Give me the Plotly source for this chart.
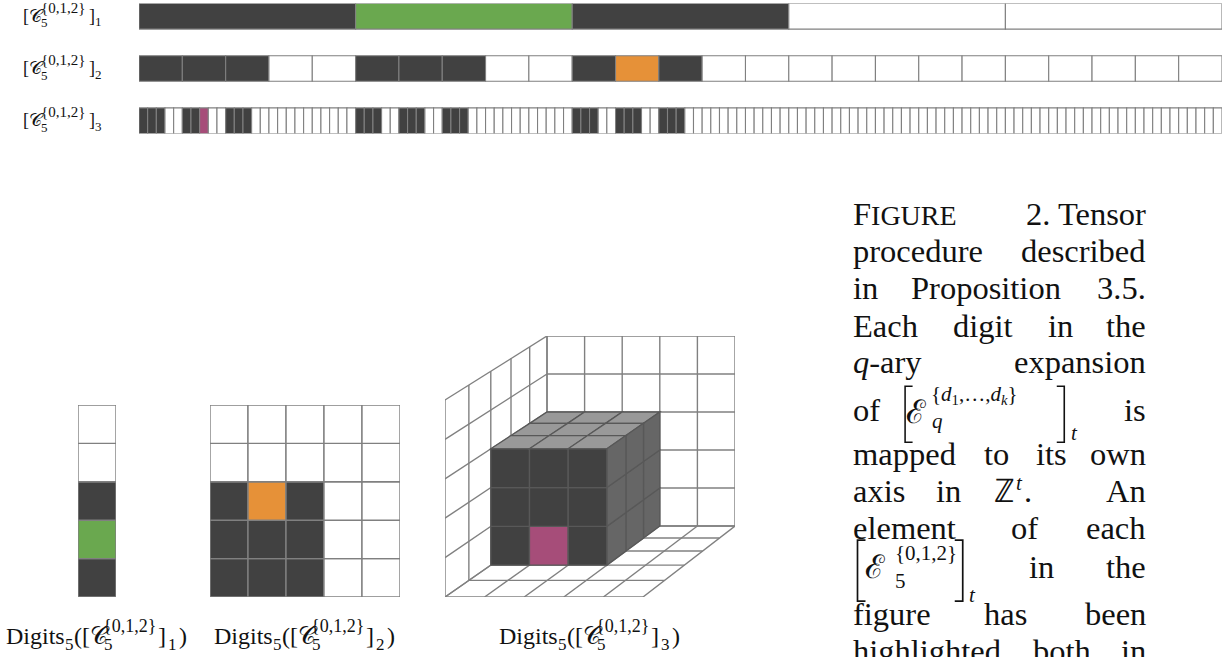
import plotly.graph_objects as go

# ---------------- data ----------------
W, H = 1230, 657
Q = 5                       # base
DIGIT_SET = [0, 1, 2]       # allowed digits
LEVELS = [1, 2, 3]          # number of digits per row / panel
HIGHLIGHT = [1, 11, 7]      # highlighted element of each level
HL_COLORS = ["#6aa84f", "#e69138", "#a64d79"]
SET_NAME = "{0,1,2}"

DARK = "#414141"
EMPTY = "#ffffff"
EDGE = "#808080"
CUBE_TOP = "#999999"
CUBE_SIDE = "#666666"
CUBE_EDGE = "#585858"
INK = "#111111"
SERIF = "Liberation Serif"


def digits_of(n, k):
    return [(n // Q ** i) % Q for i in range(k)]


def in_set(n, k):
    return all(d in DIGIT_SET for d in digits_of(n, k))


def cell_color(n, k):
    if n == HIGHLIGHT[k - 1]:
        return HL_COLORS[k - 1]
    return DARK if in_set(n, k) else EMPTY


shapes = []

# ---------------- panel A : interval rows ----------------
ROW_HALF = 0.245
NMAX = Q ** max(LEVELS)
for r, k in enumerate(LEVELS):
    w = NMAX / Q ** k
    for n in range(Q ** k):
        shapes.append(dict(type="rect", xref="x", yref="y",
                           x0=n * w, x1=(n + 1) * w,
                           y0=r - ROW_HALF, y1=r + ROW_HALF,
                           fillcolor=cell_color(n, k),
                           line=dict(color=EDGE, width=1.1)))

# ---------------- panel B : 1D column ----------------
for n in range(Q):
    shapes.append(dict(type="rect", xref="x2", yref="y2",
                       x0=0, x1=1, y0=n, y1=n + 1,
                       fillcolor=cell_color(n, 1),
                       line=dict(color=EDGE, width=1.4)))

# ---------------- panel C : 2D grid ----------------
for n in range(Q ** 2):
    d = digits_of(n, 2)
    X, Y = d[0], d[1]
    shapes.append(dict(type="rect", xref="x3", yref="y3",
                       x0=X, x1=X + 1, y0=Y, y1=Y + 1,
                       fillcolor=cell_color(n, 2),
                       line=dict(color=EDGE, width=1.4)))

# ---------------- panel D : 3D lattice ----------------
K_PERSP = 1.222
BACK_O, BACK_S = (102 / 38, 71 / 38), (37.6 / 38, 1.0)
FRONT_O, FRONT_S = (0.0, 0.0), (39.6 / 38, 39.4 / 38)


def proj(X, Y, Z):
    t = Z / Q
    f = t / (K_PERSP - (K_PERSP - 1) * t)
    bx = BACK_O[0] + BACK_S[0] * X
    by = BACK_O[1] + BACK_S[1] * Y
    fx = FRONT_O[0] + FRONT_S[0] * X
    fy = FRONT_O[1] + FRONT_S[1] * Y
    return bx + f * (fx - bx), by + f * (fy - by)


def seg(p, q, color=EDGE, width=1.4):
    (x0, y0), (x1, y1) = proj(*p), proj(*q)
    shapes.append(dict(type="line", xref="x4", yref="y4",
                       x0=x0, y0=y0, x1=x1, y1=y1,
                       line=dict(color=color, width=width)))


def poly(pts, fill, color=CUBE_EDGE, width=1.3):
    xy = [proj(*p) for p in pts]
    path = "M " + " L ".join(f"{x:.4f},{y:.4f}" for x, y in xy) + " Z"
    shapes.append(dict(type="path", xref="x4", yref="y4", path=path,
                       fillcolor=fill, line=dict(color=color, width=width)))


for i in range(Q + 1):
    # back wall (Z = 0)
    seg((i, 0, 0), (i, Q, 0))
    seg((0, i, 0), (Q, i, 0))
    # left wall (X = 0)
    seg((0, 0, i), (0, Q, i))
    seg((0, i, 0), (0, i, Q))
    # floor (Y = 0)
    seg((i, 0, 0), (i, 0, Q))
    seg((0, 0, i), (Q, 0, i))

vox = {}
for n in range(Q ** 3):
    if in_set(n, 3):
        d0, d1, d2 = digits_of(n, 3)
        vox[(d1, d2, d0)] = n          # (X, Y, depth layer)

for (X, Y, L), n in sorted(vox.items(), key=lambda kv: (kv[0][2], kv[0][0], kv[0][1])):
    if (X, Y + 1, L) not in vox:      # top face
        poly([(X, Y + 1, L), (X + 1, Y + 1, L), (X + 1, Y + 1, L + 1), (X, Y + 1, L + 1)], CUBE_TOP)
    if (X + 1, Y, L) not in vox:      # right face
        poly([(X + 1, Y, L), (X + 1, Y + 1, L), (X + 1, Y + 1, L + 1), (X + 1, Y, L + 1)], CUBE_SIDE)
    if (X, Y, L + 1) not in vox:      # front face
        col = HL_COLORS[2] if n == HIGHLIGHT[2] else DARK
        poly([(X, Y, L + 1), (X + 1, Y, L + 1), (X + 1, Y + 1, L + 1), (X, Y + 1, L + 1)], col)

# ---------------- text ----------------
ann = []


def T(x, base, text, size, anchor="left", family=SERIF):
    ann.append(dict(xref="paper", yref="paper", x=x / W, y=1 - (base - 0.34 * size) / H,
                    text=text, showarrow=False, xanchor=anchor, yanchor="middle",
                    font=dict(family=family, size=size, color=INK), borderpad=0))


def BR(x, center, text, size):
    ann.append(dict(xref="paper", yref="paper", x=x / W, y=1 - center / H,
                    text=text, showarrow=False, xanchor="left", yanchor="middle",
                    font=dict(family="Roboto", size=size, color=INK, weight=100), borderpad=0))


# row labels
ROW_CENTERS = [16, 68.5, 120.5]
for k, yc in zip(LEVELS, ROW_CENTERS):
    T(22, yc + 6, "[𝒞", 18)
    T(40, yc - 3, SET_NAME, 15)
    T(40, yc + 11, str(Q), 13)
    T(88, yc + 6, "]", 18)
    T(94, yc + 10, str(k), 13)

# bottom labels (centred below each panel)
PANEL_CENTERS = [97, 305, 590]
for k, cx in zip(LEVELS, PANEL_CENTERS):
    ox = cx - 95
    b = 644
    T(ox + 3, b, "Digits", 24)
    T(ox + 62, b + 6, str(Q), 17)
    T(ox + 71, b, "([𝒞", 24)
    T(ox + 100, b - 12, SET_NAME, 18)
    T(ox + 101, b + 6, str(Q), 17)
    T(ox + 155, b, "]", 24)
    T(ox + 165, b + 6, str(k), 17)
    T(ox + 176, b, ")", 24)

# caption (justified column)
CS = 32.5
CAP_LINES = [
    (225, [("F<span style='font-size:28px'>IGURE</span>", 852, "left"), ("2. Tensor", 1147, "right")]),
    (262, [("procedure", 852, "left"), ("described", 1147, "right")]),
    (299, [("in", 852, "left"), ("Proposition", 910, "left"), ("3.5.", 1147, "right")]),
    (337, [("Each", 852, "left"), ("digit", 952, "left"), ("in", 1047, "left"), ("the", 1147, "right")]),
    (373, [("<i>q</i>-ary", 852, "left"), ("expansion", 1147, "right")]),
    (421, [("of", 852, "left"), ("is", 1147, "right")]),
    (465, [("mapped", 852, "left"), ("to", 983, "left"), ("its", 1035, "left"), ("own", 1147, "right")]),
    (502, [("axis", 852, "left"), ("in", 935, "left"), ("An", 1147, "right")]),
    (539, [("element", 852, "left"), ("of", 1010, "left"), ("each", 1147, "right")]),
    (578, [("in", 1028, "left"), ("the", 1147, "right")]),
    (625, [("figure", 852, "left"), ("has", 983, "left"), ("been", 1147, "right")]),
    (662, [("highlighted", 852, "left"), ("both", 1032, "left"), ("in", 1147, "right")]),
]
for base, words in CAP_LINES:
    for txt, x, anc in words:
        T(x, base, txt, CS, anc)

# math in caption
BR(898, 413, "[", 60)
T(905, 423, "ℰ", CS)
T(930, 402, "{<i>d</i><sub>1</sub>,…,<i>d<sub>k</sub></i>}", 21)
T(931, 428, "<i>q</i>", 21)
BR(1055, 413, "]", 60)
T(1070, 440, "<i>t</i>", 21)

T(993, 502, "ℤ", CS)
T(1015, 490, "<i>t</i>", 21)
T(1023, 502, ".", CS)

BR(850, 570, "[", 64)
T(864, 578, "ℰ", CS)
T(894, 560, SET_NAME, 21)
T(894, 588, str(Q), 21)
BR(953, 570, "]", 64)
T(968, 602, "<i>t</i>", 21)

# ---------------- figure ----------------
fig = go.Figure()
for i in ["", "2", "3", "4"]:
    fig.add_trace(go.Scatter(x=[None], y=[None], xaxis="x" + i, yaxis="y" + i,
                             showlegend=False, hoverinfo="skip"))


def px_dom(a, b, total):
    return [a / total, b / total]


def ax(domain, rng):
    return dict(domain=domain, range=rng, visible=False, showgrid=False,
                zeroline=False, fixedrange=True)


fig.update_layout(
    width=W, height=H,
    margin=dict(l=0, r=0, t=0, b=0),
    paper_bgcolor="white", plot_bgcolor="white",
    xaxis=ax(px_dom(139, 1222, W), [0, NMAX]),
    yaxis=ax([1 - 133.5 / H, 1 - 3.5 / H], [len(LEVELS) - 1 + ROW_HALF, -ROW_HALF]),
    xaxis2=ax(px_dom(78, 116, W), [0, 1]),
    yaxis2=ax([1 - 597 / H, 1 - 405 / H], [0, Q]),
    xaxis3=ax(px_dom(210, 400, W), [0, Q]),
    yaxis3=ax([1 - 597 / H, 1 - 405 / H], [0, Q]),
    xaxis4=ax(px_dom(445, 735, W), [0, 290 / 38]),
    yaxis4=ax([1 - 597 / H, 1 - 336 / H], [0, 261 / 38]),
    shapes=shapes,
    annotations=ann,
    showlegend=False,
)

fig.write_html("out.html",
               config={"displayModeBar": False},
               post_script="document.body.style.margin='0px';document.body.style.overflow='hidden';")
